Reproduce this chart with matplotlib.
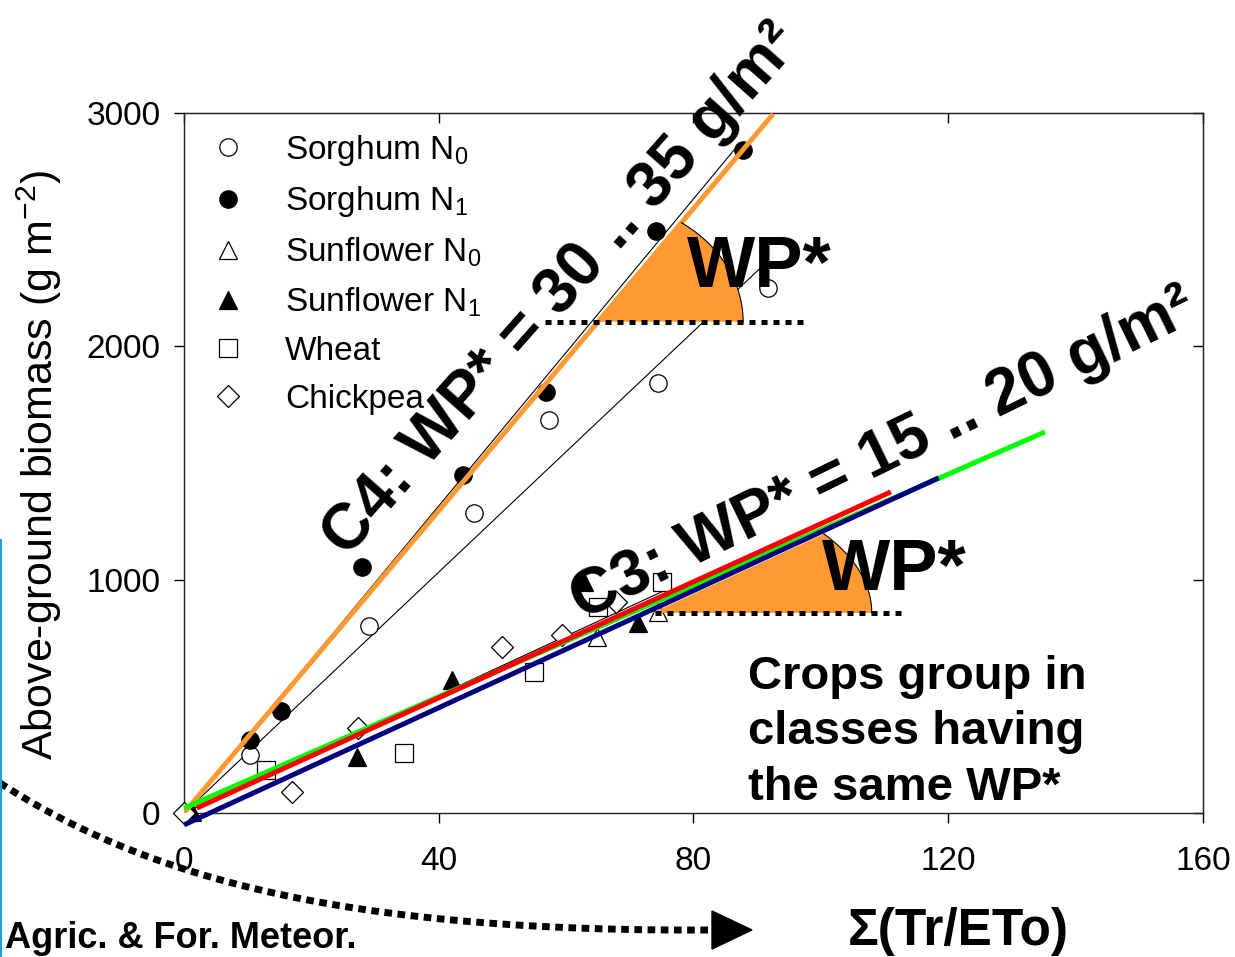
import numpy as np
import matplotlib
matplotlib.use("Agg")
import matplotlib.pyplot as plt
from matplotlib.patches import Polygon
from matplotlib.lines import Line2D

plt.rcParams['font.family'] = ['Liberation Sans', 'DejaVu Sans']
plt.rcParams['mathtext.fontset'] = 'custom'
plt.rcParams['mathtext.rm'] = 'Liberation Sans'
plt.rcParams['mathtext.default'] = 'regular'

# --- data ---
sorghum_n0_x = [10.3, 29.0, 45.5, 57.3, 74.4, 91.7]
sorghum_n0_y = [249, 801, 1286, 1684, 1843, 2251]
sorghum_n1_x = [10.3, 15.2, 28.0, 43.8, 56.9, 74.1, 87.8]
sorghum_n1_y = [313, 437, 1054, 1449, 1806, 2496, 2842]
sunflower_n0_x = [64.8, 74.5]
sunflower_n0_y = [754, 862]
sunflower_n1_x = [1.2, 27.2, 42.1, 62.8, 71.3]
sunflower_n1_y = [5, 240, 570, 990, 814]
wheat_x = [12.9, 34.5, 55.0, 65.0, 75.1]
wheat_y = [184, 257, 604, 883, 990]
chickpea_x = [0.0, 16.9, 27.3, 50.0, 59.3, 67.8]
chickpea_y = [0, 90, 364, 711, 763, 904]

# fitted lines (end points)
c4_x, c4_y = [0, 92.5], [0, 2995]
n1_fit_x, n1_fit_y = [0, 86.8], [0, 2855]
n0_fit_x, n0_fit_y = [0, 91.2], [0, 2353]
c3_fit_x, c3_fit_y = [0, 76.3], [0, 964]
green_x, green_y = [0, 135.2], [21, 1633]
red_x, red_y = [2.0, 111.0], [21, 1376]
navy_x, navy_y = [0, 118.5], [-51, 1436]

xticks = [0, 40, 80, 120, 160]
yticks = [0, 1000, 2000, 3000]

ORANGE = '#FF9933'

fig = plt.figure(figsize=(12.35, 9.57), dpi=100)
ax = fig.add_axes([0.149, 0.1505, 0.825, 0.7315])
ax.set_xlim(0, 160)
ax.set_ylim(0, 3000)
ax.set_xticks(xticks)
ax.set_yticks(yticks)
ax.tick_params(direction='out', length=7, width=1, labelsize=24)
ax.tick_params(axis='x', pad=17)
ax.tick_params(axis='y', pad=10)
for s in ax.spines.values():
    s.set_linewidth(1)
    s.set_color('#222222')

top = ax.secondary_xaxis('top')
top.set_xticks(xticks)
top.tick_params(direction='in', length=7, width=1, labeltop=False)
right = ax.secondary_yaxis('right')
right.set_yticks(yticks)
right.tick_params(direction='in', length=7, width=1, labelright=False)

ax.set_ylabel('Above-ground biomass (g m$^{-2}$)', fontsize=31)
ax.yaxis.set_label_coords(-0.118, 0.497)

# thin regression lines
for lx, ly in [(n1_fit_x, n1_fit_y), (n0_fit_x, n0_fit_y), (c3_fit_x, c3_fit_y)]:
    ax.plot(lx, ly, color='black', lw=0.8, zorder=2)

# symbols
mk = dict(linestyle='none', markersize=12.5, markeredgecolor='black',
          markeredgewidth=0.9, zorder=3, clip_on=False)
ax.plot(sorghum_n0_x, sorghum_n0_y, 'o', markerfacecolor='white', label=r'Sorghum N$_0$', **mk)
ax.plot(sorghum_n1_x, sorghum_n1_y, 'o', markerfacecolor='black', label=r'Sorghum N$_1$', **mk)
ax.plot(sunflower_n0_x, sunflower_n0_y, '^', markerfacecolor='white', label=r'Sunflower N$_0$', **mk)
ax.plot(sunflower_n1_x, sunflower_n1_y, '^', markerfacecolor='black', label=r'Sunflower N$_1$', **mk)
ax.plot(wheat_x, wheat_y, 's', markerfacecolor='white', label='Wheat', **mk)
ax.plot(chickpea_x, chickpea_y, 'D', markerfacecolor='white', label='Chickpea',
        **{**mk, 'markersize': 11})

# coloured class lines
ax.plot(c4_x, c4_y, color=ORANGE, lw=3.6, zorder=4, solid_capstyle='butt')
ax.plot(green_x, green_y, color='#00FF00', lw=3.6, zorder=4, solid_capstyle='butt', clip_on=False)
ax.plot(red_x, red_y, color='#FF0000', lw=3.6, zorder=5, solid_capstyle='butt', clip_on=False)
ax.plot(navy_x, navy_y, color='#000080', lw=3.6, zorder=6, solid_capstyle='butt', clip_on=False)


def slope_wedge(x0, y0, a, b, slope, x_dot):
    # orange sector under the line plus dotted horizontal base
    t_top = np.arctan(slope * a / b)
    t = np.linspace(t_top, 0, 50)
    ax_ = x0 + a * np.cos(t)
    ay_ = y0 + b * np.sin(t)
    pts = np.column_stack([np.r_[x0, ax_], np.r_[y0, ay_]])
    ax.add_patch(Polygon(pts, closed=True, facecolor=ORANGE, edgecolor='none', zorder=7))
    ax.plot(ax_, ay_, color='black', lw=0.8, zorder=7)
    ax.plot(x_dot, [y0, y0], color='black', lw=3.6, linestyle=(0, (1.2, 1.2)), zorder=8)


slope_wedge(65.0, 2105, 22.8, 519, c4_y[1] / c4_x[1], [56.7, 97.2])
slope_wedge(73.5, 857, 34.5, 544, (navy_y[1] - navy_y[0]) / (navy_x[1] - navy_x[0]), [73.9, 113.5])

txt = dict(fontweight='bold', zorder=10, clip_on=False)
ax.text(59.3, 2242, 'C4: WP* = 30 .. 35 g/m²', fontsize=46, rotation=48.5,
        rotation_mode='anchor', ha='center', va='center', **txt)
ax.text(109.8, 1534, 'C3: WP* = 15 .. 20 g/m²', fontsize=46, rotation=26,
        rotation_mode='anchor', ha='center', va='center', **txt)
ax.text(90.4, 2255, 'WP*', fontsize=52, ha='center', va='baseline', **txt)
ax.text(111.6, 955, 'WP*', fontsize=52, ha='center', va='baseline', **txt)
ax.text(88.5, 345, 'Crops group in\nclasses having\nthe same WP*', fontsize=34,
        ha='left', va='center', linespacing=1.33, **txt)

leg = ax.legend(loc='upper left', bbox_to_anchor=(0.027, 0.972), frameon=False,
                fontsize=24, handlelength=1.0, handletextpad=1.2, labelspacing=0.5,
                borderpad=0, borderaxespad=0, numpoints=1)
leg.set_zorder(9)

# figure-level labels
fig.text(958 / 1235, 1 - 932 / 957, 'Σ(Tr/ETo)', fontsize=37, fontweight='bold',
         ha='center', va='center')
fig.text(0.004, 1 - 948 / 957, 'Agric. & For. Meteor.', fontsize=26, fontweight='bold',
         ha='left', va='baseline')

# dotted curved arrow across the bottom
p0, p1, p2, p3 = np.array([0, 783]), np.array([150, 880]), np.array([350, 932]), np.array([712, 930])
tt = np.linspace(0, 1, 100)[:, None]
curve = (1 - tt) ** 3 * p0 + 3 * (1 - tt) ** 2 * tt * p1 + 3 * (1 - tt) * tt ** 2 * p2 + tt ** 3 * p3
fig.add_artist(Line2D(curve[:, 0] / 1235, 1 - curve[:, 1] / 957, color='black', lw=5,
                      linestyle=(0, (1.1, 0.8)), transform=fig.transFigure))
fig.add_artist(Polygon([[712 / 1235, 1 - 911 / 957], [712 / 1235, 1 - 949 / 957],
                        [752 / 1235, 1 - 930 / 957]], closed=True, color='black',
                       transform=fig.transFigure))
# thin blue slide edge on the left
fig.add_artist(Line2D([0.001, 0.001], [0, 1 - 540 / 957], color='#1E9FE0', lw=1.5,
                      transform=fig.transFigure))

fig.savefig('out.png', dpi=100)
